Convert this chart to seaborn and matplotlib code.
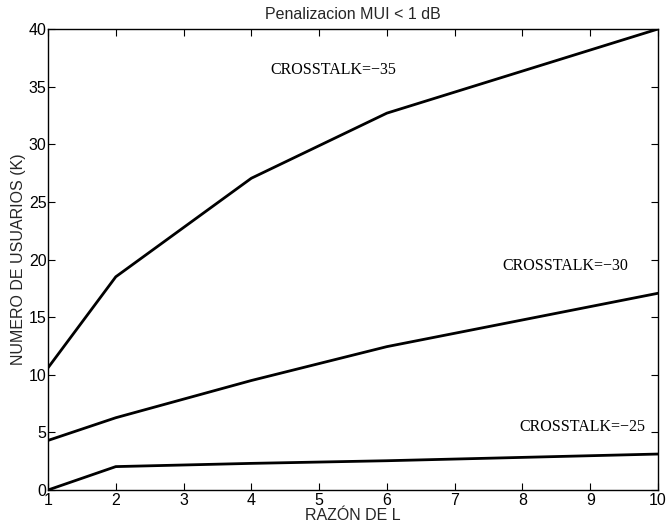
import matplotlib
matplotlib.use("Agg")
import matplotlib.pyplot as plt
import seaborn as sns
import pandas as pd

# Number of users vs. L ratio for three crosstalk levels (MUI penalty < 1 dB)
razon_l = [1, 2, 4, 6, 10]
usuarios_c35 = [10.6, 18.5, 27.05, 32.7, 40.0]
usuarios_c30 = [4.3, 6.27, 9.5, 12.44, 17.07]
usuarios_c25 = [0.0, 2.03, 2.31, 2.54, 3.12]

etiquetas = ["CROSSTALK=\u221235", "CROSSTALK=\u221230", "CROSSTALK=\u221225"]
etiqueta_x = [4.28, 7.71, 7.95]
etiqueta_y = [36.4, 19.4, 5.5]

titulo = "Penalizacion MUI < 1 dB"
xlabel = "RAZ\u00d3N DE L"
ylabel = "NUMERO DE USUARIOS (K)"

sns.set_style("ticks")
plt.rcParams["font.family"] = ["Liberation Sans", "DejaVu Sans"]
plt.rcParams["xtick.direction"] = "in"
plt.rcParams["ytick.direction"] = "in"

df = pd.concat([
    pd.DataFrame({"L": razon_l, "K": usuarios_c35, "serie": etiquetas[0]}),
    pd.DataFrame({"L": razon_l, "K": usuarios_c30, "serie": etiquetas[1]}),
    pd.DataFrame({"L": razon_l, "K": usuarios_c25, "serie": etiquetas[2]}),
])

fig = plt.figure(figsize=(6.66, 5.31), dpi=100)
ax = fig.add_axes([48 / 666, 1 - 490 / 531, 610 / 666, 461 / 531])

sns.lineplot(data=df, x="L", y="K", units="serie", estimator=None,
             color="black", linewidth=2.0, ax=ax, legend=False, sort=False)

for txt, tx, ty in zip(etiquetas, etiqueta_x, etiqueta_y):
    ax.text(tx, ty, txt, ha="left", va="center", fontsize=11.5,
            family=["Liberation Serif", "DejaVu Serif"], color="black")

ax.set_xlim(1, 10)
ax.set_ylim(0, 40)
ax.set_xticks(range(1, 11))
ax.set_yticks(range(0, 41, 5))
ax.tick_params(axis="both", which="both", top=True, right=True,
               length=5, width=0.8, labelsize=11.5, color="black",
               labelcolor="black")
ax.tick_params(axis="x", pad=2)
ax.tick_params(axis="y", pad=1)
for sp in ax.spines.values():
    sp.set_visible(True)
    sp.set_linewidth(1.0)
    sp.set_color("black")

ax.set_title(titulo, fontsize=11.5, pad=7)
ax.set_xlabel(xlabel, fontsize=11.5, labelpad=0)
ax.set_ylabel(ylabel, fontsize=11.5, labelpad=2)

fig.savefig("out.png", dpi=100, facecolor="white")
